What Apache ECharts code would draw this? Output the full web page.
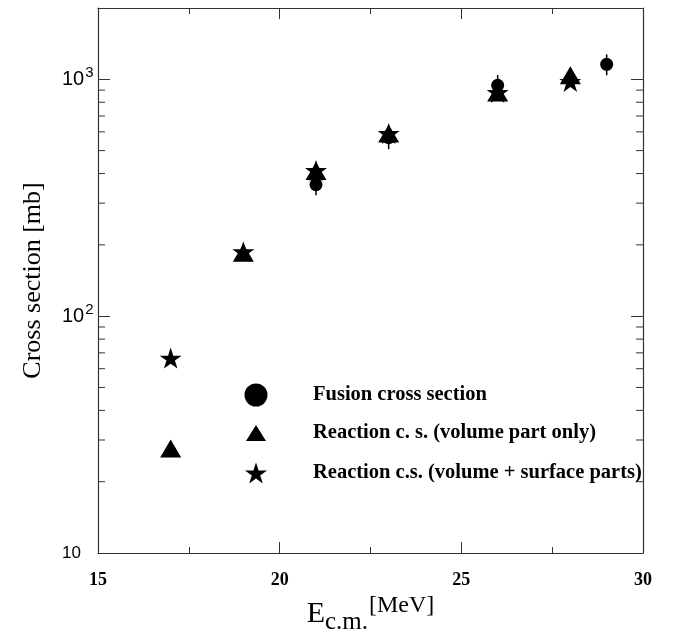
<!DOCTYPE html>
<html>
<head>
<meta charset="utf-8">
<script src="https://cdn.jsdelivr.net/npm/echarts@6/dist/echarts.min.js"></script>
<style>
html,body{margin:0;padding:0;background:#fff;}
#chart{width:674px;height:635px;}
</style>
</head>
<body>
<div id="chart"></div>
<script>
// ---- data ----
const fusionE = [21, 23, 26, 29];
const fusionCS = [359, 567, 943, 1157];
const fusionErr = [35, 60, 100, 117];

const volE = [17, 19, 21, 23, 26, 28];
const volCS = [27.6, 185, 410, 590, 880, 1040];

const surfE = [17, 19, 21, 23, 26, 28];
const surfCS = [66.5, 187, 412, 590, 880, 980];

const xTicks = [15, 20, 25, 30];
const yMajor = [10, 100, 1000];
const yMinor = [20, 30, 40, 50, 60, 70, 80, 90, 200, 300, 400, 500, 600, 700, 800, 900];

const legendNames = ['Fusion cross section', 'Reaction c. s. (volume part only)', 'Reaction c.s. (volume + surface parts)'];

// ---- chart ----
const STAR = 'path://M50,0 L61.23,34.55 L97.55,34.55 L68.16,55.9 L79.39,90.45 L50,69.1 L20.61,90.45 L31.84,55.9 L2.45,34.55 L38.77,34.55 Z';
const XMIN = 15, XMAX = 30, YMIN = 10, YMAX = 2000;
const axisColor = '#333';
const serif = '"Liberation Serif", "DejaVu Serif", serif';
const sans = '"Liberation Sans", Arial, sans-serif';

const chart = echarts.init(document.getElementById('chart'), null, {renderer: 'canvas'});

function yLabel(v) {
  const e = Math.round(Math.log10(v));
  if (Math.abs(v - Math.pow(10, e)) / v > 1e-6) return '';
  if (yMajor.indexOf(Math.pow(10, e)) < 0) return '';
  if (e === 1) return '{a|10}';
  return '{b|10}{s|' + e + '}';
}

const LEG_CX = 256, LEG_TEXT_X = 313, LEG_LH = 24;
function legendAt(cy, w, h, name, icon) {
  return {
    orient: 'vertical',
    left: LEG_CX - w / 2,
    top: cy - LEG_LH / 2,
    padding: 0,
    itemGap: 0,
    itemWidth: w,
    itemHeight: h,
    selectedMode: false,
    textStyle: {fontFamily: serif, fontWeight: 'bold', fontSize: 20.5, lineHeight: LEG_LH, color: '#000',
      padding: [0, 0, 0, LEG_TEXT_X - (LEG_CX + w / 2) - 5]},
    itemStyle: {color: '#000', opacity: 1},
    data: [{name: name, icon: icon}]
  };
}

const option = {
  animation: false,
  backgroundColor: '#fff',
  grid: {left: 98, right: 31, top: 8, bottom: 82, containLabel: false, outerBoundsMode: 'none'},
  xAxis: [{
    type: 'value', min: XMIN, max: XMAX, interval: 5,
    position: 'bottom',
    axisLine: {show: true, onZero: false, lineStyle: {color: axisColor, width: 1.2}},
    axisTick: {inside: true, length: 11, lineStyle: {color: axisColor}},
    minorTick: {show: true, splitNumber: 2, length: 6, lineStyle: {color: axisColor}},
    splitLine: {show: false},
    axisLabel: {margin: 18, fontFamily: serif, fontWeight: 'bold', fontSize: 18, color: '#000',
      formatter: v => (xTicks.indexOf(v) >= 0 ? String(v) : '')},
    name: '{e|E}{c|c.m.}{m|[MeV]}',
    nameLocation: 'middle', nameGap: 34,
    nameTextStyle: {
      rich: {
        e: {fontFamily: serif, fontSize: 30, color: '#000', verticalAlign: 'middle'},
        c: {fontFamily: serif, fontSize: 25, color: '#000', verticalAlign: 'bottom', padding: [16, 0, 0, 0]},
        m: {fontFamily: serif, fontSize: 24, color: '#000', verticalAlign: 'top', padding: [0, 0, 6, 1]}
      }
    }
  }, {
    type: 'value', min: XMIN, max: XMAX, interval: 5,
    position: 'top',
    axisLine: {show: true, onZero: false, lineStyle: {color: axisColor, width: 1.2}},
    axisTick: {inside: true, length: 11, lineStyle: {color: axisColor}},
    minorTick: {show: true, splitNumber: 2, length: 6, lineStyle: {color: axisColor}},
    splitLine: {show: false},
    axisLabel: {show: false}
  }],
  yAxis: [{
    type: 'log', logBase: 10, min: YMIN, max: YMAX,
    position: 'left',
    axisLine: {show: true, onZero: false, lineStyle: {color: axisColor, width: 1.2}},
    axisTick: {inside: true, length: 12, lineStyle: {color: axisColor}},
    splitLine: {show: false},
    axisLabel: {
      margin: 36, align: 'left', showMaxLabel: false, color: '#000',
      formatter: yLabel,
      rich: {
        a: {fontFamily: sans, fontSize: 17, color: '#000'},
        b: {fontFamily: sans, fontSize: 20, color: '#000'},
        s: {fontFamily: sans, fontSize: 15, color: '#000', verticalAlign: 'top', padding: [0, 0, 12, 1]}
      }
    },
    name: 'Cross section [mb]',
    nameLocation: 'middle', nameGap: 52, nameRotate: 90,
    nameTextStyle: {fontFamily: serif, fontSize: 26, color: '#000'}
  }, {
    type: 'log', logBase: 10, min: YMIN, max: YMAX,
    position: 'right',
    axisLine: {show: true, onZero: false, lineStyle: {color: axisColor, width: 1.2}},
    axisTick: {inside: true, length: 12, lineStyle: {color: axisColor}},
    splitLine: {show: false},
    axisLabel: {show: false}
  }],
  legend: [
    legendAt(395, 23, 23, legendNames[0], 'circle'),
    legendAt(433, 20, 16, legendNames[1], 'triangle'),
    legendAt(473, 22, 21, legendNames[2], STAR)
  ],
  series: [
    {
      name: 'minorTicks', type: 'custom', silent: true, clip: false, z: 1,
      data: yMinor.map(v => [XMIN, v]),
      renderItem: function (params, api) {
        const v = api.value(1);
        const pl = api.coord([XMIN, v]);
        const pr = api.coord([XMAX, v]);
        const st = {stroke: axisColor, lineWidth: 1};
        return {type: 'group', children: [
          {type: 'line', shape: {x1: pl[0], y1: pl[1], x2: pl[0] + 7, y2: pl[1]}, style: st},
          {type: 'line', shape: {x1: pr[0], y1: pr[1], x2: pr[0] - 7, y2: pr[1]}, style: st}
        ]};
      }
    },
    {
      name: 'errorBars', type: 'custom', silent: true, z: 2,
      data: fusionE.map((e, i) => [e, fusionCS[i] - fusionErr[i], fusionCS[i] + fusionErr[i]]),
      renderItem: function (params, api) {
        const lo = api.coord([api.value(0), api.value(1)]);
        const hi = api.coord([api.value(0), api.value(2)]);
        return {type: 'line', shape: {x1: lo[0], y1: lo[1], x2: hi[0], y2: hi[1]},
          style: {stroke: '#000', lineWidth: 1.5}};
      }
    },
    {
      name: legendNames[0], type: 'scatter', symbol: 'circle', symbolSize: 13, z: 3,
      itemStyle: {color: '#000', opacity: 1},
      data: fusionE.map((e, i) => [e, fusionCS[i]])
    },
    {
      name: legendNames[1], type: 'scatter', symbol: 'triangle', symbolSize: [21, 18], z: 4,
      itemStyle: {color: '#000', opacity: 1},
      data: volE.map((e, i) => [e, volCS[i]])
    },
    {
      name: legendNames[2], type: 'scatter', symbol: STAR, symbolSize: [22, 21], z: 5,
      itemStyle: {color: '#000', opacity: 1},
      data: surfE.map((e, i) => [e, surfCS[i]])
    }
  ]
};
chart.setOption(option);
</script>
</body>
</html>
